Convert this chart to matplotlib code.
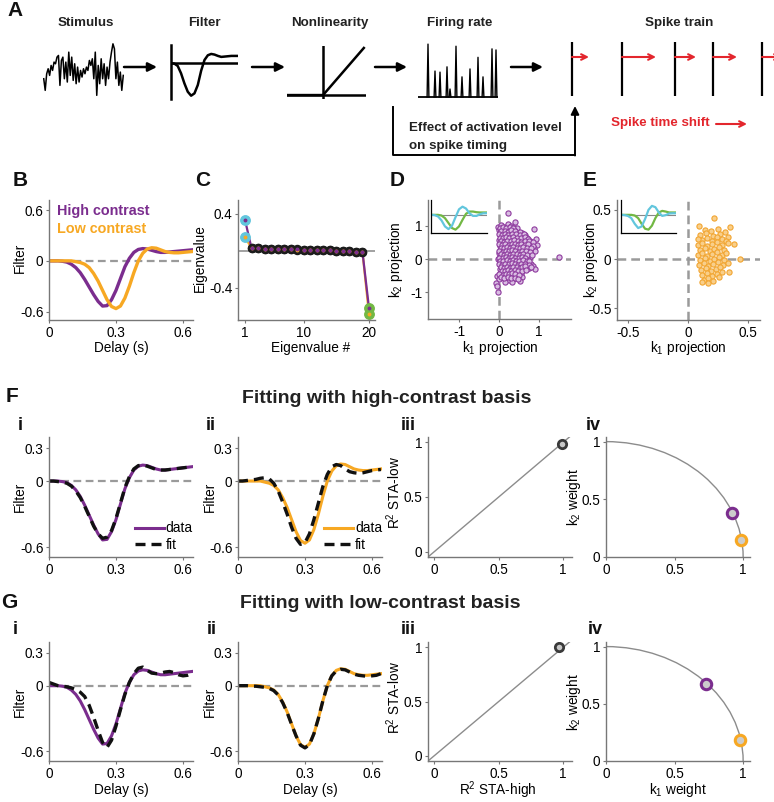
import matplotlib
matplotlib.use("Agg")
import matplotlib.pyplot as plt
from matplotlib.patches import Arc

plt.rcParams["font.family"] = ["Liberation Sans", "DejaVu Sans"]
plt.rcParams["mathtext.fontset"] = "custom"
plt.rcParams["mathtext.rm"] = "Liberation Sans"
plt.rcParams["mathtext.it"] = "Liberation Sans:italic"
plt.rcParams["mathtext.default"] = "rm"

W, H = 774, 802
PURPLE = "#7b2d8e"
ORANGE = "#f7a823"
CYAN = "#62c6dd"
GREEN = "#72b844"
GRAY = "#9a9a9a"
SPINE = "#777777"
RED = "#e3262d"

# ---------------- data ----------------
# panel A icons
stimulus = [10, 3, 13, 16, 12, 18, 15, 20, 19, 23, 24, 6, 21, 23, 10, 20, 8, 26, 12,
            23, 9, 19, 7, 17, 8, 15, 11, 16, 13, 17, 15, 21, 18, 22, 10, 26, 0, 18,
            7, 22, 10, 19, 6, 17, 10, 20, 26, 31, 28, 10, 20, 6, 14, 3, 12]
filter_icon = [-0.06, -0.09, -0.30, -0.97, -1.88, -2.64, -3.0, -2.79, -2.03, -0.73, 0.24,
               0.67, 0.79, 0.73, 0.61, 0.52, 0.55, 0.58, 0.61, 0.61, 0.61]
nl_in = [-1.0, 0.0, 1.13]
nl_out = [0.0, 0.0, 0.96]
rate_spike_pos = [10, 17, 22, 29, 32, 38, 44, 52, 60, 65, 74, 78]
rate_spike_height = [1.0, 0.49, 0.47, 0.57, 0.15, 0.96, 0.38, 0.53, 0.75, 0.38, 0.91, 0.89]
spike_t = [0, 50, 103, 141, 190]
spike_shift = [17, 34, 21, 24, 20]

# filters (s)
delay = [0.00, 0.02, 0.04, 0.06, 0.08, 0.10, 0.12, 0.14, 0.16, 0.18, 0.20, 0.22, 0.24,
         0.26, 0.28, 0.30, 0.32, 0.34, 0.36, 0.38, 0.40, 0.42, 0.44, 0.46, 0.48, 0.50,
         0.52, 0.54, 0.56, 0.58, 0.60, 0.62, 0.64]
sta_high = [0.00, 0.00, 0.00, -0.005, -0.015, -0.04, -0.08, -0.14, -0.22, -0.31, -0.40,
            -0.48, -0.535, -0.53, -0.46, -0.35, -0.21, -0.07, 0.03, 0.10, 0.135, 0.145,
            0.14, 0.125, 0.11, 0.10, 0.10, 0.105, 0.11, 0.115, 0.12, 0.125, 0.13]
sta_low = [0.00, 0.00, 0.00, 0.00, 0.00, 0.00, -0.01, -0.02, -0.04, -0.08, -0.15, -0.24,
           -0.35, -0.46, -0.54, -0.565, -0.535, -0.44, -0.30, -0.14, 0.00, 0.09, 0.14,
           0.155, 0.15, 0.13, 0.11, 0.10, 0.095, 0.095, 0.10, 0.105, 0.11]
f_fit_high = [0.00, 0.00, -0.005, -0.01, -0.02, -0.045, -0.09, -0.15, -0.23, -0.32, -0.41,
              -0.48, -0.52, -0.51, -0.45, -0.34, -0.20, -0.06, 0.04, 0.11, 0.14, 0.145,
              0.135, 0.12, 0.105, 0.10, 0.10, 0.105, 0.11, 0.115, 0.12, 0.125, 0.13]
f_fit_low = [0.00, 0.00, 0.005, 0.01, 0.015, 0.025, 0.03, 0.02, -0.02, -0.09, -0.19, -0.30,
             -0.42, -0.52, -0.575, -0.56, -0.48, -0.35, -0.20, -0.05, 0.06, 0.13, 0.15,
             0.14, 0.11, 0.085, 0.075, 0.07, 0.075, 0.085, 0.095, 0.10, 0.105]
g_fit_high = [0.03, 0.015, 0.00, -0.005, -0.01, -0.02, -0.035, -0.06, -0.10, -0.18, -0.29,
              -0.41, -0.52, -0.565, -0.50, -0.37, -0.22, -0.08, 0.03, 0.11, 0.16, 0.17,
              0.14, 0.115, 0.11, 0.115, 0.125, 0.13, 0.12, 0.10, 0.09, 0.095, 0.11]
g_fit_low = [0.00, 0.00, 0.00, -0.005, -0.005, -0.01, -0.015, -0.025, -0.045, -0.085,
             -0.155, -0.245, -0.355, -0.46, -0.545, -0.57, -0.54, -0.44, -0.30, -0.14,
             0.00, 0.09, 0.135, 0.15, 0.145, 0.125, 0.105, 0.095, 0.09, 0.085, 0.09,
             0.095, 0.11]

# eigenvalues
eig_num = list(range(1, 21))
eig_high = [0.335, 0.029, 0.026, 0.024, 0.022, 0.020, 0.018, 0.016, 0.014, 0.012, 0.010,
            0.008, 0.006, 0.004, 0.002, 0.000, -0.004, -0.008, -0.013, -0.62]
eig_low = [0.15, 0.027, 0.025, 0.023, 0.021, 0.019, 0.017, 0.015, 0.013, 0.011, 0.009,
           0.007, 0.005, 0.003, 0.001, -0.001, -0.005, -0.009, -0.014, -0.69]

# projections, high contrast (D)
d_k1 = [-0.02, 0.06, 0.14, 0.23, 0.31, 0.39,
        0.01, 0.10, 0.19, 0.27, 0.36, 0.46, 0.88,
        0.03, 0.09, 0.17, 0.25, 0.32, 0.41, 0.49, 0.57, 0.66,
        0.05, 0.13, 0.21, 0.29, 0.37, 0.45, 0.53, 0.61, 0.71,
        0.00, 0.08, 0.16, 0.24, 0.33, 0.42, 0.50, 0.58, 0.67, 0.77,
        0.04, 0.12, 0.20, 0.28, 0.36, 0.44, 0.52, 0.61, 0.71, 0.82, 0.94,
        0.02, 0.10, 0.18, 0.26, 0.34, 0.42, 0.50, 0.58, 0.66, 0.75, 0.87,
        0.06, 0.14, 0.22, 0.30, 0.38, 0.46, 0.54, 0.62, 0.70, 0.80,
        0.01, 0.09, 0.17, 0.25, 0.33, 0.41, 0.49, 0.57, 0.65, 0.74, 0.91,
        0.05, 0.12, 0.20, 0.28, 0.36, 0.44, 0.52, 0.60, 0.68, 0.78,
        -0.03, 0.07, 0.15, 0.23, 0.31, 0.39, 0.47, 0.55, 0.63, 0.72,
        0.03, 0.11, 0.19, 0.27, 0.35, 0.43, 0.51, 0.59, 0.67, 0.80,
        0.06, 0.14, 0.22, 0.30, 0.38, 0.46, 0.54, 0.62, 0.72, 0.86,
        0.02, 0.10, 0.18, 0.26, 0.34, 0.42, 0.50, 0.60, 0.74, 0.89,
        0.05, 0.13, 0.21, 0.29, 0.37, 0.45, 0.55,
        -0.06, 0.08, 0.17, 0.26, 0.35, 0.44, 0.57,
        0.00, 0.12, 0.24, 0.36, 0.52,
        -0.08, 0.15, 0.33, -0.05, -0.02,
        0.22, 1.50, 0.92, 0.40,
        0.02, 0.10, 0.18, 0.27, 0.35,
        0.05, 0.14, 0.22, 0.30, 0.40, 0.52,
        0.00, 0.07, 0.15, 0.23, 0.33, 0.43, 0.53, 0.62,
        0.02, 0.10, 0.18, 0.26, 0.35, 0.46, 0.55, 0.64, 0.73,
        0.05, 0.13, 0.21, 0.29, 0.38, 0.47, 0.55, 0.64, 0.75, 0.86,
        0.00, 0.08, 0.16, 0.24, 0.32, 0.40, 0.48, 0.56, 0.64, 0.73, 0.85,
        0.04, 0.12, 0.20, 0.28, 0.36, 0.44, 0.52, 0.60, 0.69, 0.79,
        0.01, 0.09, 0.17, 0.25, 0.33, 0.41, 0.50, 0.58, 0.67, 0.77,
        0.04, 0.12, 0.20, 0.28, 0.36, 0.44, 0.52, 0.60, 0.70, 0.82,
        0.01, 0.09, 0.17, 0.25, 0.33, 0.41, 0.49, 0.57, 0.66,
        0.03, 0.11, 0.19, 0.27, 0.35, 0.43, 0.51, 0.59, 0.69, 0.76,
        0.00, 0.08, 0.16, 0.24, 0.32, 0.40, 0.48, 0.56, 0.64, 0.74,
        0.04, 0.12, 0.20, 0.28, 0.36, 0.44, 0.52, 0.58, 0.66, 0.80,
        0.07, 0.15, 0.23, 0.31, 0.39, 0.47, 0.57, 0.68,
        0.01, 0.09, 0.17, 0.25, 0.33, 0.41, 0.50,
        0.04, 0.13, 0.22, 0.31, 0.40, 0.48]
d_k2 = [0.98, 1.03, 0.96, 1.05, 0.99, 0.94,
        0.88, 0.92, 0.85, 0.91, 0.87, 0.93, 0.90,
        0.78, 0.82, 0.76, 0.81, 0.79, 0.84, 0.77, 0.80, 0.74,
        0.69, 0.72, 0.66, 0.71, 0.68, 0.73, 0.67, 0.70, 0.65,
        0.59, 0.62, 0.57, 0.61, 0.58, 0.63, 0.56, 0.60, 0.62, 0.55,
        0.49, 0.52, 0.47, 0.51, 0.48, 0.53, 0.46, 0.50, 0.52, 0.47, 0.42,
        0.39, 0.42, 0.37, 0.41, 0.38, 0.43, 0.36, 0.40, 0.42, 0.37, 0.35,
        0.29, 0.32, 0.27, 0.31, 0.28, 0.33, 0.26, 0.30, 0.32, 0.27,
        0.19, 0.22, 0.17, 0.21, 0.18, 0.23, 0.16, 0.20, 0.22, 0.17, 0.24,
        0.09, 0.12, 0.07, 0.11, 0.08, 0.13, 0.06, 0.10, 0.12, 0.07,
        -0.01, 0.02, -0.03, 0.01, -0.02, 0.03, -0.04, 0.00, 0.02, -0.03,
        -0.11, -0.08, -0.13, -0.09, -0.12, -0.07, -0.14, -0.10, -0.08, -0.15,
        -0.21, -0.18, -0.23, -0.19, -0.22, -0.17, -0.24, -0.20, -0.26, -0.22,
        -0.31, -0.28, -0.33, -0.29, -0.32, -0.27, -0.34, -0.30, -0.27, -0.30,
        -0.41, -0.38, -0.43, -0.39, -0.42, -0.37, -0.44,
        -0.50, -0.48, -0.53, -0.49, -0.52, -0.47, -0.55,
        -0.61, -0.58, -0.63, -0.60, -0.66,
        -0.72, -0.70, -0.68, -0.82, -1.00,
        1.38, 0.08, 0.62, 1.12,
        0.95, 0.97, 0.93, 0.96, 0.94,
        0.84, 0.86, 0.83, 0.87, 0.85, 0.82,
        0.75, 0.73, 0.76, 0.74, 0.77, 0.75, 0.73, 0.76,
        0.65, 0.63, 0.66, 0.64, 0.67, 0.65, 0.63, 0.66, 0.60,
        0.55, 0.53, 0.56, 0.54, 0.57, 0.55, 0.53, 0.56, 0.54, 0.52,
        0.45, 0.43, 0.46, 0.44, 0.47, 0.45, 0.43, 0.46, 0.44, 0.45, 0.40,
        0.35, 0.33, 0.36, 0.34, 0.37, 0.35, 0.33, 0.36, 0.34, 0.33,
        0.25, 0.23, 0.26, 0.24, 0.27, 0.25, 0.23, 0.26, 0.24, 0.22,
        0.15, 0.13, 0.16, 0.14, 0.17, 0.15, 0.13, 0.16, 0.14, 0.12,
        0.05, 0.03, 0.06, 0.04, 0.07, 0.05, 0.03, 0.06, 0.04,
        -0.05, -0.07, -0.04, -0.06, -0.03, -0.05, -0.07, -0.04, -0.06, -0.05,
        -0.15, -0.17, -0.14, -0.16, -0.13, -0.15, -0.17, -0.14, -0.16, -0.18,
        -0.25, -0.27, -0.24, -0.26, -0.23, -0.25, -0.27, -0.24, -0.22, -0.25,
        -0.35, -0.37, -0.34, -0.36, -0.33, -0.35, -0.37, -0.32,
        -0.45, -0.47, -0.44, -0.46, -0.43, -0.45, -0.47,
        -0.55, -0.57, -0.54, -0.56, -0.58, -0.60]

# projections, low contrast (E)
e_k1 = [0.14, 0.19, 0.25, 0.31,
        0.10, 0.15, 0.21, 0.27, 0.33,
        0.12, 0.16, 0.20, 0.24, 0.28, 0.32,
        0.08, 0.12, 0.16, 0.20, 0.24, 0.28, 0.33, 0.38,
        0.10, 0.14, 0.18, 0.22, 0.26, 0.30,
        0.08, 0.12, 0.16, 0.20, 0.24, 0.28, 0.32,
        0.10, 0.14, 0.18, 0.22, 0.26, 0.30, 0.43,
        0.09, 0.13, 0.17, 0.21, 0.25, 0.29, 0.33,
        0.11, 0.15, 0.19, 0.23, 0.27, 0.34,
        0.12, 0.16, 0.20, 0.24, 0.28,
        0.13, 0.17, 0.21, 0.26,
        0.09, 0.22, 0.35, 0.12, 0.17, 0.08]
e_k2 = [0.30, 0.28, 0.31, 0.27,
        0.24, 0.26, 0.23, 0.25, 0.22,
        0.19, 0.21, 0.18, 0.22, 0.20, 0.18,
        0.14, 0.16, 0.13, 0.15, 0.17, 0.14, 0.16, 0.15,
        0.09, 0.11, 0.08, 0.10, 0.12, 0.09,
        0.04, 0.06, 0.03, 0.05, 0.07, 0.04, 0.06,
        -0.01, 0.01, -0.02, 0.00, 0.02, -0.01, 0.00,
        -0.06, -0.04, -0.07, -0.05, -0.03, -0.06, -0.04,
        -0.11, -0.09, -0.12, -0.10, -0.08, -0.13,
        -0.16, -0.14, -0.17, -0.15, -0.13,
        -0.21, -0.19, -0.22, -0.18,
        0.34, 0.42, 0.33, -0.23, -0.24, 0.20]

# inset eigenvectors (normalised time 0..1)
inset_t = [0.0, 0.0625, 0.125, 0.1875, 0.25, 0.3125, 0.375, 0.4375, 0.5, 0.5625, 0.625,
           0.6875, 0.75, 0.8125, 0.875, 0.9375, 1.0]
d_vec1 = [0, -0.02, -0.12, -0.42, -0.88, -1.08, -0.82, -0.18, 0.42, 0.62, 0.48, 0.12,
          -0.08, -0.08, 0.05, 0.12, 0.12]
d_vec2 = [0, 0, 0, -0.05, -0.25, -0.62, -1.0, -1.12, -0.88, -0.38, 0.08, 0.25, 0.25, 0.2,
          0.18, 0.18, 0.18]
e_vec1 = [0, -0.02, -0.08, -0.25, -0.68, -1.0, -0.88, -0.32, 0.38, 0.68, 0.58, 0.18, -0.08,
          -0.02, 0.10, 0.12, 0.12]
e_vec2 = [0, 0, 0, 0, -0.05, -0.25, -0.68, -1.05, -1.12, -0.82, -0.25, 0.18, 0.30, 0.25,
          0.18, 0.18, 0.18]

# fit quality and weights
f_r2_high, f_r2_low = [0.995], [0.985]
g_r2_high, g_r2_low = [0.965], [1.0]
f_w1, f_w2 = [0.92, 0.985], [0.38, 0.15]
g_w1, g_w2 = [0.73, 0.98], [0.675, 0.185]
w_colors = [PURPLE, ORANGE]

# ---------------- figure ----------------
fig = plt.figure(figsize=(W / 100, H / 100), dpi=100)


def box(l, t, r, b):
    return [l / W, 1 - b / H, (r - l) / W, (b - t) / H]


def text(x, y, s, **kw):
    kw.setdefault("ha", "center")
    kw.setdefault("va", "center")
    fig.text(x / W, 1 - y / H, s, **kw)


def style(ax):
    for s in ["top", "right"]:
        ax.spines[s].set_visible(False)
    for s in ["left", "bottom"]:
        ax.spines[s].set_color(SPINE)
        ax.spines[s].set_linewidth(1.0)
    ax.tick_params(length=2.5, width=0.8, color=SPINE, labelsize=9.8, pad=1.5,
                   labelcolor="black")


# overlay for panel A arrows
ov = fig.add_axes([0, 0, 1, 1])
ov.set_xlim(0, W)
ov.set_ylim(H, 0)
ov.axis("off")
for x0, x1 in [(124, 157), (252, 285), (375, 407), (511, 543)]:
    ov.annotate("", xy=(x1, 67), xytext=(x0, 67),
                arrowprops=dict(arrowstyle="-|>", color="black", lw=1.8,
                                mutation_scale=13, shrinkA=0, shrinkB=0))
ov.plot([393, 393, 575], [107, 155, 155], color="black", lw=1.4)
ov.annotate("", xy=(575, 106), xytext=(575, 155.5),
            arrowprops=dict(arrowstyle="-|>", color="black", lw=1.4,
                            mutation_scale=12, shrinkA=0, shrinkB=0))
ov.annotate("", xy=(747, 124), xytext=(716, 124),
            arrowprops=dict(arrowstyle="->", color=RED, lw=1.5,
                            mutation_scale=10, shrinkA=0, shrinkB=0))

# stimulus
ax = fig.add_axes(box(43, 43, 124, 97))
ax.plot(range(len(stimulus)), stimulus, color="black", lw=1.1)
ax.set_xlim(-0.5, len(stimulus) - 0.5)
ax.set_ylim(-1, 31.5)
ax.axis("off")

# filter icon
ax = fig.add_axes(box(171, 45, 238, 99))
ax.plot(range(len(filter_icon)), filter_icon, color="black", lw=1.8)
ax.axhline(0, color="black", lw=1.8)
ax.set_xlim(0, len(filter_icon) - 1)
ax.set_ylim(-3.3, 1.6)
for s in ["top", "right", "bottom"]:
    ax.spines[s].set_visible(False)
ax.spines["left"].set_linewidth(1.8)
ax.set_xticks([])
ax.set_yticks([])
ax.patch.set_alpha(0)

# nonlinearity icon
ax = fig.add_axes(box(287, 46, 366, 99))
ax.axhline(0, color="black", lw=1.8)
ax.axvline(0, color="black", lw=1.8)
ax.plot(nl_in, nl_out, color="black", lw=1.8)
ax.set_xlim(-1, 1.19)
ax.set_ylim(-0.08, 1.0)
ax.axis("off")

# firing rate icon
ax = fig.add_axes(box(418, 42, 498, 98))
ax.axhline(0, color="black", lw=1.3)
for p, h in zip(rate_spike_pos, rate_spike_height):
    ax.plot([p - 0.9, p, p + 0.9], [0, h, 0], color="black", lw=1.0)
ax.set_xlim(0, 80)
ax.set_ylim(-0.02, 1.04)
ax.axis("off")

# spike train icon
ax = fig.add_axes(box(556, 38, 774, 100))
ax.vlines(spike_t, 4, 58, color="black", lw=1.6)
for t, s in zip(spike_t, spike_shift):
    ax.annotate("", xy=(t + s, 43), xytext=(t, 43), annotation_clip=False,
                arrowprops=dict(arrowstyle="->", color=RED, lw=1.5,
                                mutation_scale=10, shrinkA=0, shrinkB=0))
ax.set_xlim(-16, 202)
ax.set_ylim(0, 62)
ax.axis("off")

bold = dict(fontsize=9.6, fontweight="bold", color="#222222")
text(86, 23, "Stimulus", **bold)
text(204, 23, "Filter", **bold)
text(330, 23, "Nonlinearity", **bold)
text(460, 23, "Firing rate", **bold)
text(679, 23, "Spike train", **bold)
text(409, 128, "Effect of activation level", ha="left", **bold)
text(409, 146, "on spike timing", ha="left", **bold)
text(611, 123, "Spike time shift", ha="left", fontsize=9.6, fontweight="bold", color=RED)

# ---------------- B ----------------
axB = fig.add_axes(box(49, 200, 193, 320))
style(axB)
axB.axhline(0, color=GRAY, lw=1.6, ls=(0, (3.5, 2)), zorder=0)
axB.plot(delay, sta_high, color=PURPLE, lw=2.4)
axB.plot(delay, sta_low, color=ORANGE, lw=2.4)
axB.set_xlim(0, 0.645)
axB.set_ylim(-0.70, 0.72)
axB.set_xticks([0, 0.3, 0.6], ["0", "0.3", "0.6"])
axB.set_yticks([-0.6, 0, 0.6], ["-0.6", "0", "0.6"])
text(57, 211, "High contrast", ha="left", fontsize=10.4, fontweight="bold", color=PURPLE)
text(57, 229, "Low contrast", ha="left", fontsize=10.4, fontweight="bold", color=ORANGE)

# ---------------- C ----------------
axC = fig.add_axes(box(238, 200, 375, 320))
style(axC)
axC.axhline(0, color=GRAY, lw=1.3, zorder=0)
for vals, col in [(eig_low, ORANGE), (eig_high, PURPLE)]:
    axC.plot(eig_num, vals, color=col, lw=1.6, zorder=1)
    axC.plot(eig_num[1:-1], vals[1:-1], "o", color="#1c1c1c", ms=5.8, zorder=2)
    axC.plot(eig_num[0], vals[0], "o", color=CYAN, ms=6.8, zorder=2)
    axC.plot(eig_num[-1], vals[-1], "o", color=GREEN, ms=6.8, zorder=2)
    axC.plot(eig_num, vals, "o", color=col, ms=1.8, zorder=3)
axC.set_xlim(-0.07, 20.92)
axC.set_ylim(-0.75, 0.55)
axC.set_xticks([1, 10, 20], ["1", "10", "20"])
axC.set_yticks([-0.4, 0.4], ["-0.4", "0.4"])


# ---------------- D, E ----------------
def projection_panel(rect, k1, k2, face, edge, lim_x, lim_y, ticks, labels, inset_rect,
                     vec1, vec2):
    ax = fig.add_axes(box(*rect))
    style(ax)
    ax.axhline(0, color=GRAY, lw=1.8, ls=(0, (3.5, 2)), zorder=0)
    ax.axvline(0, color=GRAY, lw=1.8, ls=(0, (3.5, 2)), zorder=0)
    ax.scatter(k1, k2, s=14, facecolor=face, edgecolor=edge, lw=0.8, zorder=2)
    ax.set_xlim(*lim_x)
    ax.set_ylim(*lim_y)
    ax.set_xticks(ticks, labels)
    ax.set_yticks(ticks, labels)
    ins = fig.add_axes(box(*inset_rect))
    ins.axhline(0, color="#888888", lw=0.8)
    ins.plot(inset_t, vec2, color=GREEN, lw=1.6)
    ins.plot(inset_t, vec1, color=CYAN, lw=1.6)
    ins.set_xlim(0, 1)
    ins.set_ylim(-1.375, 1.125)
    for s in ["top", "right"]:
        ins.spines[s].set_visible(False)
    for s in ["left", "bottom"]:
        ins.spines[s].set_linewidth(0.9)
    ins.set_xticks([])
    ins.set_yticks([])
    ins.patch.set_alpha(0)
    return ax


projection_panel((428, 200, 571, 319), d_k1, d_k2, "#d9bde2", "#8e3a9e",
                 (-1.78, 1.8), (-1.8, 1.78), [-1, 0, 1], ["-1", "0", "1"],
                 (431, 200, 487, 233), d_vec1, d_vec2)
projection_panel((617, 200, 760, 320), e_k1, e_k2, "#f9cf8a", "#f2a530",
                 (-0.59, 0.6), (-0.62, 0.6), [-0.5, 0, 0.5], ["-0.5", "0", "0.5"],
                 (621, 200, 676, 233), e_vec1, e_vec2)

lab = dict(fontsize=9.8)
text(20, 258, "Filter", rotation=90, **lab)
text(200, 258, "Eigenvalue", rotation=90, **lab)
text(396, 260, "k$_2$ projection", rotation=90, **lab)
text(591, 260, "k$_2$ projection", rotation=90, **lab)
text(121, 348, "Delay (s)", **lab)
text(311, 348, "Eigenvalue #", **lab)
text(500, 348, "k$_1$ projection", **lab)
text(688, 348, "k$_1$ projection", **lab)


# ---------------- F, G ----------------
def filter_panel(rect, data, fit, color, legend):
    ax = fig.add_axes(box(*rect))
    style(ax)
    ax.axhline(0, color=GRAY, lw=1.6, ls=(0, (3.5, 2)), zorder=0)
    ax.plot(delay, data, color=color, lw=2.2, label="data")
    ax.plot(delay, fit, color="#111111", lw=2.4, ls=(0, (3, 1.8)), label="fit")
    ax.set_xlim(0, 0.645)
    ax.set_ylim(-0.69, 0.40)
    ax.set_xticks([0, 0.3, 0.6], ["0", "0.3", "0.6"])
    ax.set_yticks([-0.6, 0, 0.3], ["-0.6", "0", "0.3"])
    if legend:
        ax.legend(loc="lower right", bbox_to_anchor=(1.0, 0.04), frameon=False,
                  fontsize=10, handlelength=2.1, handletextpad=0.15, labelspacing=0.2,
                  borderpad=0, borderaxespad=0)
    return ax


def r2_panel(rect, x, y):
    ax = fig.add_axes(box(*rect))
    style(ax)
    ax.axline((0, 0), (1, 1), color="#8c8c8c", lw=1.0)
    ax.plot(x, y, "o", ms=6, mfc="#c8c8c8", mec="#3a3a3a", mew=2)
    ax.set_xlim(-0.05, 1.07)
    ax.set_ylim(-0.05, 1.05)
    ax.set_xticks([0, 0.5, 1], ["0", "0.5", "1"])
    ax.set_yticks([0, 0.5, 1], ["0", "0.5", "1"])
    return ax


def weight_panel(rect, w1, w2):
    ax = fig.add_axes(box(*rect))
    style(ax)
    ax.add_patch(Arc((0, 0), 2, 2, theta1=0, theta2=90, color="#8c8c8c", lw=1.0))
    for a, b, c in zip(w1, w2, w_colors):
        ax.plot(a, b, "o", ms=7.5, mfc="#cccccc", mec=c, mew=2.2, clip_on=False)
    ax.set_xlim(0, 1.05)
    ax.set_ylim(0, 1.04)
    ax.set_xticks([0, 0.5, 1], ["0", "0.5", "1"])
    ax.set_yticks([0, 0.5, 1], ["0", "0.5", "1"])
    return ax


filter_panel((49, 437, 193, 557), sta_high, f_fit_high, PURPLE, True)
filter_panel((238, 437, 382, 557), sta_low, f_fit_low, ORANGE, True)
r2_panel((428, 437, 572, 557), f_r2_high, f_r2_low)
weight_panel((606, 437, 750, 557), f_w1, f_w2)

filter_panel((49, 642, 193, 761), sta_high, g_fit_high, PURPLE, False)
filter_panel((238, 642, 382, 761), sta_low, g_fit_low, ORANGE, False)
r2_panel((428, 642, 572, 761), g_r2_high, g_r2_low)
weight_panel((606, 642, 750, 761), g_w1, g_w2)

for yc in [497, 702]:
    text(20, yc, "Filter", rotation=90, **lab)
    text(210, yc, "Filter", rotation=90, **lab)
    text(394, yc - 4, "R$^2$ STA-low", rotation=90, **lab)
    text(574, yc, "k$_2$ weight", rotation=90, **lab)
text(121, 790, "Delay (s)", **lab)
text(310, 790, "Delay (s)", **lab)
text(498, 790, "R$^2$ STA-high", **lab)
text(678, 790, "k$_1$ weight", **lab)

# titles and panel letters
text(387, 398, "Fitting with high-contrast basis", fontsize=14, fontweight="bold",
     color="#222222")
text(380, 603, "Fitting with low-contrast basis", fontsize=14, fontweight="bold",
     color="#222222")
big = dict(fontsize=15, fontweight="bold", color="#111111")
for x, y, s in [(15, 11, "A"), (20, 181, "B"), (203, 181, "C"), (397, 181, "D"),
                (590, 181, "E"), (12, 397, "F"), (9, 603, "G")]:
    text(x, y, s, **big)
small = dict(fontsize=13, fontweight="bold", color="#111111")
for x, y, s in [(20, 426, "i"), (211, 426, "ii"), (408, 426, "iii"), (593, 426, "iv"),
                (15, 630, "i"), (212, 630, "ii"), (408, 630, "iii"), (595, 630, "iv")]:
    text(x, y, s, **small)

fig.savefig("out.png", dpi=100)
